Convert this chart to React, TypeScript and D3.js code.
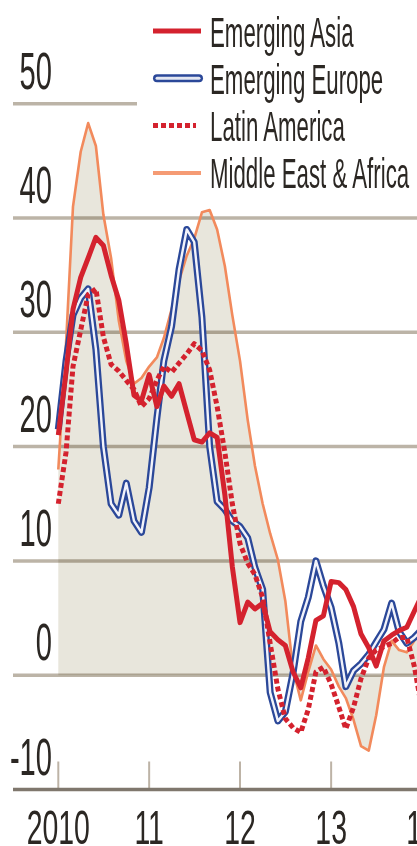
import React from "react";
import * as d3 from "d3";

// ---- data (monthly, Jan 2010 .. Jan 2014) ----
const months: Date[] = d3.timeMonth.range(new Date(2010, 0, 1), new Date(2014, 1, 1));

const emergingAsia = [
  21, 26.5, 32, 34.8, 36.5, 38.3, 37.6, 35, 32.8, 29, 24.5, 24,
  26.3, 23.5, 25.3, 24.4, 25.5, 23, 20.6, 20.4, 21.2, 20.8, 15.8, 9.5,
  4.6, 6.4, 5.8, 6.3, 3.8, 3.1, 2.6, 0.3, -1.1, 1.5, 4.8, 5.2,
  8.2, 8.1, 7.5, 6, 3.6, 2.4, 0.8, 3, 3.5, 3.9, 4.2, 5.6,
  7,
];
const emergingEurope = [
  21.5, 27.5, 31.5, 33, 33.8, 28.5, 20, 15, 14, 16.8, 13.5, 12.5,
  16.4, 22.5, 27.5, 30.5, 35.5, 39, 37.9, 31.3, 20, 15.2, 14.5, 13.5,
  13, 12, 9.4, 7.5, -1.5, -4, -3.2, 0.2, 4.7, 6.8, 10, 7.8,
  5.9, 2.8, -1, 0.4, 1, 1.8, 2.9, 4, 6.3, 3.8, 2.8, 3.3,
  4,
];
const latinAmerica = [
  15, 19.5, 27, 30.2, 33.3, 33.8, 29.6, 27.2, 26.6, 25.8, 25, 23.5,
  24.2, 25.8, 27, 26.5, 27.3, 28.1, 29, 28.4, 26.7, 23.5, 19.5, 15,
  11.5, 9.8, 8.8, 6.8, 2.8, -1.2, -3.8, -4.6, -5, -3, 0.3, 0.7,
  -0.8, -2.8, -4.7, -2.8, -0.3, 1.5, 2.2, 2.5, 2.8, 3.3, 3.3, 0.8,
  -3,
];
const middleEastAfrica = [
  18, 29, 41, 45.8, 48.3, 46.3, 40.3, 36.5, 31, 27.5, 25.5, 26,
  27, 27.8, 29.5, 32, 34.5, 36.7, 38.2, 40.5, 40.7, 39, 35.8, 31.5,
  27.5, 22.3, 18.3, 15, 12.4, 10.1, 6.5, 0.5, -2.2, 0.3, 2.6, 1.4,
  0.5, -1, -2, -3.9, -6.2, -6.6, -3.5, 0.7, 3, 2.2, 2, 3,
  4,
];

const yTicks = [50, 40, 30, 20, 10, 0, -10];
const xYears = [2010, 2011, 2012, 2013, 2014];
const xYearLabels = ["2010", "11", "12", "13", "14"];
const legendNames = ["Emerging Asia", "Emerging Europe", "Latin America", "Middle East & Africa"];

// ---- layout ----
const W = 417;
const H = 846;
const FONT = "'Liberation Sans', Arial, sans-serif";
const TEXT = "#2b2723";
const GRID = "#bcb4a7";
const RED = "#d4222e";
const BLUE = "#2b4899";
const ORANGE = "#f28a5c";
const FILL = "#e8e6dc";

function SText(props: { x: number; y: number; sx: number; size: number; anchor: string; children: React.ReactNode }) {
  const { x, y, sx, size, anchor, children } = props;
  return (
    <text
      transform={`translate(${x},${y}) scale(${sx},1)`}
      textAnchor={anchor as any}
      fontFamily={FONT}
      fontSize={size}
      fill={TEXT}
    >
      {children}
    </text>
  );
}

export default function App() {
  const x = d3.scaleTime().domain([new Date(2010, 0, 1), new Date(2014, 0, 1)]).range([58.3, 422]);
  const y = d3.scaleLinear().domain([-10, 50]).range([789.5, 103.7]);

  const line = (vals: number[]) =>
    d3
      .line<number>()
      .x((_, i) => x(months[i]))
      .y((v) => y(v))(vals) || "";

  const area =
    d3
      .area<number>()
      .x((_, i) => x(months[i]))
      .y0(y(0))
      .y1((v) => y(v))(middleEastAfrica) || "";

  const legendY = (i: number) => 31 + i * 47.3;

  return (
    <svg
      width={W}
      height={H}
      style={{ position: "absolute", left: 0, top: 0, display: "block", background: "#fff" }}
    >
      {/* shaded area */}
      <path d={area} fill={FILL} />

      {/* gridlines */}
      {yTicks
        .filter((t) => t > -10)
        .map((t) => (
          <line
            key={t}
            x1={13}
            x2={t === 50 ? 137 : W}
            y1={y(t)}
            y2={y(t)}
            stroke={GRID}
            strokeWidth={3.5}
            style={{ mixBlendMode: "multiply" }}
          />
        ))}

      {/* x ticks and axis */}
      {xYears.map((yr) => (
        <line
          key={yr}
          x1={x(new Date(yr, 0, 1))}
          x2={x(new Date(yr, 0, 1))}
          y1={y(-10) - 28}
          y2={y(-10)}
          stroke="#bdb3a6"
          strokeWidth={2}
        />
      ))}
      <line x1={13} x2={W} y1={y(-10)} y2={y(-10)} stroke="#7f776d" strokeWidth={3.5} />

      {/* y labels */}
      {yTicks.map((t) => (
        <SText key={t} x={52} y={y(t) - 15} sx={0.56} size={52} anchor="end">
          {t < 0 ? "-" + Math.abs(t) : String(t)}
        </SText>
      ))}

      {/* x labels */}
      {xYears.map((yr, i) => (
        <SText key={yr} x={x(new Date(yr, 0, 1))} y={844} sx={0.58} size={49} anchor="middle">
          {xYearLabels[i]}
        </SText>
      ))}

      {/* series */}
      <path d={line(middleEastAfrica)} fill="none" stroke={ORANGE} strokeWidth={2.6} strokeLinejoin="round" />
      <path d={line(emergingEurope)} fill="none" stroke={BLUE} strokeWidth={7} strokeLinejoin="round" />
      <path d={line(emergingEurope)} fill="none" stroke="#f2f3fa" strokeWidth={2.4} strokeLinejoin="round" />
      <path
        d={line(latinAmerica)}
        fill="none"
        stroke={RED}
        strokeWidth={5}
        strokeDasharray="5 3"
        strokeLinejoin="round"
      />
      <path d={line(emergingAsia)} fill="none" stroke={RED} strokeWidth={5} strokeLinejoin="round" />

      {/* legend */}
      {legendNames.map((name, i) => {
        const ly = legendY(i);
        return (
          <g key={name}>
            {i === 0 && <line x1={153} x2={201} y1={ly} y2={ly} stroke={RED} strokeWidth={5} />}
            {i === 1 && (
              <g>
                <line x1={157} x2={199} y1={ly} y2={ly} stroke={BLUE} strokeWidth={8} strokeLinecap="round" />
                <line x1={157} x2={199} y1={ly} y2={ly} stroke="#e4e7f2" strokeWidth={3} strokeLinecap="round" />
              </g>
            )}
            {i === 2 && (
              <line x1={153} x2={196} y1={ly} y2={ly} stroke={RED} strokeWidth={5} strokeDasharray="5 3" />
            )}
            {i === 3 && <line x1={153} x2={201} y1={ly} y2={ly} stroke="#f59b74" strokeWidth={4} />}
            <SText x={210} y={ly + 15.5} sx={0.53} size={42} anchor="start">
              {name}
            </SText>
          </g>
        );
      })}
    </svg>
  );
}
